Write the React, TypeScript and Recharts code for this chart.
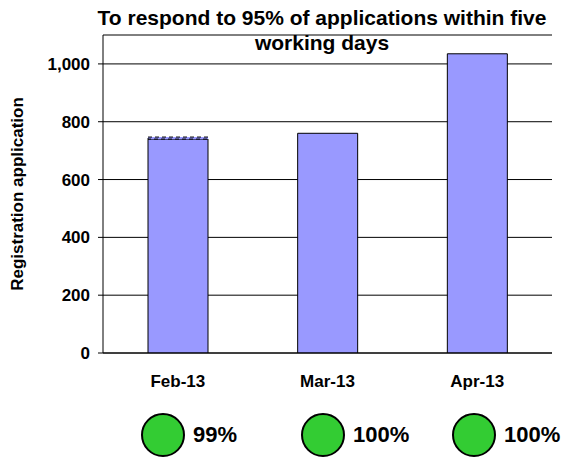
import { BarChart, Bar, XAxis, YAxis, CartesianGrid, ReferenceLine } from 'recharts';

const MONTHS = ['Feb-13', 'Mar-13', 'Apr-13'];
const ON_TIME = [740, 760, 1035];
const LATE = [7, 0, 0];
const RATES = ['99%', '100%', '100%'];
const Y_TICKS = [0, 200, 400, 600, 800, 1000];
const EDGE_TICKS = [0, 1, 2, 3];
const TITLE_LINES = ['To respond to 95% of applications within five', 'working days'];
const Y_LABEL = 'Registration application';

const data = MONTHS.map((month, i) => ({ month, onTime: ON_TIME[i], late: LATE[i] }));

const FONT = 'Arial, "Liberation Sans", sans-serif';

// rate badges sit under the chart, roughly under each month
const BADGE_X = [163, 323, 474];

export default function App() {
  return (
    <div
      style={{
        position: 'absolute',
        left: 0,
        top: 0,
        width: 568,
        height: 465,
        background: '#fff',
        fontFamily: FONT,
      }}
    >
      <div
        style={{
          position: 'absolute',
          left: 72,
          top: 5,
          width: 500,
          textAlign: 'center',
          fontSize: 21,
          fontWeight: 'bold',
          lineHeight: '25px',
          color: '#000',
        }}
      >
        {TITLE_LINES.map((line) => (
          <div key={line}>{line}</div>
        ))}
      </div>

      <BarChart
        width={568}
        height={400}
        data={data}
        margin={{ top: 35, right: 16, bottom: 7, left: 0 }}
        style={{ position: 'absolute', left: 0, top: 0, fontFamily: FONT }}
      >
        <CartesianGrid xAxisId="cat" vertical={false} stroke="#000" />
        <XAxis
          xAxisId="edge"
          type="number"
          domain={[0, 3]}
          ticks={EDGE_TICKS}
          height={0}
          axisLine={false}
          tickLine={{ stroke: '#000' }}
          tickSize={5}
          tickFormatter={() => ''}
          allowDataOverflow
        />
        <XAxis
          xAxisId="cat"
          dataKey="month"
          height={40}
          axisLine={{ stroke: '#000' }}
          tickLine={false}
          tickSize={0}
          tickMargin={22}
          tick={{ fill: '#000', fontSize: 17, fontWeight: 'bold' }}
        />
        <YAxis
          width={103}
          domain={[0, 1100]}
          ticks={Y_TICKS}
          allowDataOverflow
          axisLine={{ stroke: '#000' }}
          tickLine={{ stroke: '#000' }}
          tickSize={5}
          tickMargin={8}
          tickFormatter={(v: number) => v.toLocaleString('en-US')}
          tick={{ fill: '#000', fontSize: 17, fontWeight: 'bold' }}
          label={{
            content: ({ viewBox }: any) => {
              const cy = viewBox.y + viewBox.height / 2;
              return (
                <text
                  x={17}
                  y={cy}
                  transform={`rotate(-90, 17, ${cy})`}
                  textAnchor="middle"
                  dominantBaseline="central"
                  fontSize={17}
                  fontWeight="bold"
                  fill="#000"
                >
                  {Y_LABEL}
                </text>
              );
            },
          }}
        />
        <ReferenceLine
          xAxisId="edge"
          segment={[{ x: 0, y: 1000 }, { x: 3, y: 1000 }]}
          stroke="#808080"
        />
        <ReferenceLine
          xAxisId="edge"
          segment={[{ x: 3, y: 0 }, { x: 3, y: 1000 }]}
          stroke="#808080"
        />
        <Bar
          xAxisId="cat"
          dataKey="onTime"
          stackId="a"
          fill="#9999FF"
          stroke="#000"
          barSize={60}
          isAnimationActive={false}
        />
        <Bar
          xAxisId="cat"
          dataKey="late"
          stackId="a"
          fill="#9999FF"
          stroke="#000"
          strokeDasharray="4 3"
          barSize={60}
          isAnimationActive={false}
        />
      </BarChart>

      {RATES.map((rate, i) => (
        <div
          key={i}
          style={{
            position: 'absolute',
            left: BADGE_X[i] - 22,
            top: 413,
            height: 44,
            display: 'flex',
            alignItems: 'center',
          }}
        >
          <div
            style={{
              width: 40,
              height: 40,
              borderRadius: '50%',
              background: '#33CC33',
              border: '2px solid #000',
            }}
          />
          <span style={{ marginLeft: 8, fontSize: 22, fontWeight: 'bold', color: '#000' }}>{rate}</span>
        </div>
      ))}
    </div>
  );
}
